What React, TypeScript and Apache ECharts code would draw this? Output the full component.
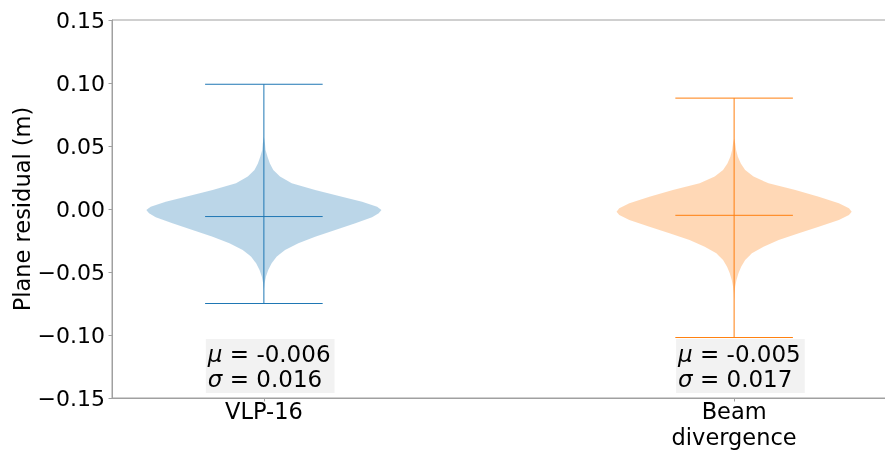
import React, { useEffect, useRef } from "react";
import * as echarts from "echarts";

// ---- data ----
const categories = ["VLP-16", "Beam\ndivergence"];
const positions = [1, 2];
const minValues = [-0.075, -0.102];
const maxValues = [0.099, 0.088];
const means = [-0.006, -0.005];
const stds = [0.016, 0.017];

// density profiles (value, relative half-width)
const vlpDensityY = [0.0574, 0.0521, 0.0468, 0.0415, 0.0362, 0.031, 0.0257, 0.0204, 0.0151, 0.0098, 0.0058, 0.0018, -0.0008, -0.0034, -0.0066, -0.0114, -0.0167, -0.022, -0.0272, -0.0325, -0.0378, -0.0431, -0.0484, -0.0537, -0.059, -0.0643];
const vlpDensityW = [0, 0.009, 0.014, 0.031, 0.051, 0.08, 0.137, 0.237, 0.436, 0.664, 0.835, 0.963, 1.0, 0.977, 0.92, 0.778, 0.607, 0.436, 0.293, 0.18, 0.108, 0.066, 0.037, 0.017, 0.006, 0];
const beamDensityY = [0.056, 0.0521, 0.0468, 0.0415, 0.0362, 0.031, 0.0257, 0.0204, 0.0151, 0.0098, 0.0045, 0.0005, -0.0021, -0.0048, -0.0087, -0.014, -0.0193, -0.0246, -0.0299, -0.0352, -0.0405, -0.0458, -0.051, -0.0563, -0.0616, -0.0669, -0.072];
const beamDensityW = [0, 0.009, 0.017, 0.032, 0.057, 0.094, 0.165, 0.293, 0.521, 0.72, 0.891, 0.977, 1.0, 0.977, 0.891, 0.72, 0.55, 0.379, 0.25, 0.151, 0.094, 0.06, 0.037, 0.02, 0.009, 0.003, 0];

const densityY = [vlpDensityY, beamDensityY];
const densityW = [vlpDensityW, beamDensityW];
const lineColors = ["#1f77b4", "#ff7f0e"];
const fillColors = ["rgba(31,119,180,0.3)", "rgba(255,127,14,0.3)"];

const HALF_WIDTH = 0.25;
const CAP_HALF = 0.125;
const FONT = "DejaVu Sans";
const SPINE = "#a0a0a0";

export default function App() {
  const ref = useRef<HTMLDivElement>(null);
  useEffect(() => {
    if (!ref.current) return;
    const chart = echarts.init(ref.current, undefined, { renderer: "svg" });

    const renderItem = (params: any, api: any) => {
      const idx = api.value(1);
      const pos = positions[idx];
      const ys = densityY[idx];
      const ws = densityW[idx];
      const right: number[][] = [];
      const left: number[][] = [];
      for (let i = 0; i < ys.length; i++) {
        right.push(api.coord([pos + ws[i] * HALF_WIDTH, ys[i]]));
        left.push(api.coord([pos - ws[i] * HALF_WIDTH, ys[i]]));
      }
      const points = right.concat(left.reverse());
      const color = lineColors[idx];
      const top = api.coord([pos, maxValues[idx]]);
      const bot = api.coord([pos, minValues[idx]]);
      const capL = (v: number) => api.coord([pos - CAP_HALF, v]);
      const capR = (v: number) => api.coord([pos + CAP_HALF, v]);
      const line = (a: number[], b: number[]) => ({
        type: "line",
        shape: { x1: a[0], y1: a[1], x2: b[0], y2: b[1] },
        style: { stroke: color, lineWidth: 1 },
      });
      const boxX = api.coord([pos - 0.1234, 0])[0];
      const boxY = api.coord([pos, -0.15])[1] - 5;
      return {
        type: "group",
        children: [
          { type: "polygon", shape: { points }, style: { fill: fillColors[idx], stroke: "none" } },
          line(top, bot),
          line(capL(maxValues[idx]), capR(maxValues[idx])),
          line(capL(minValues[idx]), capR(minValues[idx])),
          line(capL(means[idx]), capR(means[idx])),
          {
            type: "text",
            x: boxX,
            y: boxY,
            z2: 10,
            style: {
              text: `{it|μ} = ${means[idx].toFixed(3)}\n{it|σ} = ${stds[idx].toFixed(3)}`,
              fontFamily: FONT,
              fontSize: 23,
              lineHeight: 25,
              fill: "#000",
              align: "left",
              verticalAlign: "bottom",
              backgroundColor: "#f2f2f2",
              padding: [2, 4, 2, 2],
              rich: {
                it: { fontStyle: "italic", fontFamily: FONT, fontSize: 23, lineHeight: 25, fill: "#000" },
              },
            },
          },
        ],
      };
    };

    chart.setOption({
      animation: false,
      grid: {
        left: 112,
        top: 20,
        right: -1,
        bottom: 57,
        containLabel: false,
        outerBoundsMode: "none",
        show: true,
        borderColor: SPINE,
        borderWidth: 1,
        backgroundColor: "transparent",
      },
      xAxis: {
        type: "value",
        min: 0.677,
        max: 2.323,
        splitLine: { show: false },
        axisLine: { show: true, onZero: false, lineStyle: { color: SPINE } },
        axisTick: { show: true, customValues: positions, length: 3.5, lineStyle: { color: SPINE } },
        axisLabel: {
          customValues: positions,
          formatter: (v: number) => categories[positions.indexOf(Math.round(v))] ?? "",
          fontFamily: FONT,
          fontSize: 22.5,
          lineHeight: 26,
          color: "#000",
          margin: 0,
        },
      },
      yAxis: {
        type: "value",
        min: -0.15,
        max: 0.15,
        interval: 0.05,
        name: "Plane residual (m)",
        nameLocation: "middle",
        nameGap: 79,
        nameMoveOverlap: false,
        nameTextStyle: { fontFamily: FONT, fontSize: 22.5, color: "#000" },
        splitLine: { show: false },
        axisLine: { show: true, onZero: false, lineStyle: { color: SPINE } },
        axisTick: { show: true, length: 3.5, lineStyle: { color: SPINE } },
        axisLabel: {
          formatter: (v: number) => (Math.abs(v) < 1e-9 ? 0 : v).toFixed(2).replace("-", "\u2212"),
          fontFamily: FONT,
          fontSize: 22,
          color: "#000",
          margin: 7,
        },
      },
      series: [
        {
          type: "custom",
          renderItem,
          data: positions.map((p, i) => [p, i]),
          encode: { x: 0 },
        },
      ],
    });
    return () => chart.dispose();
  }, []);
  return <div ref={ref} style={{ position: "fixed", left: 0, top: 0, width: 885, height: 455 }} />;
}
